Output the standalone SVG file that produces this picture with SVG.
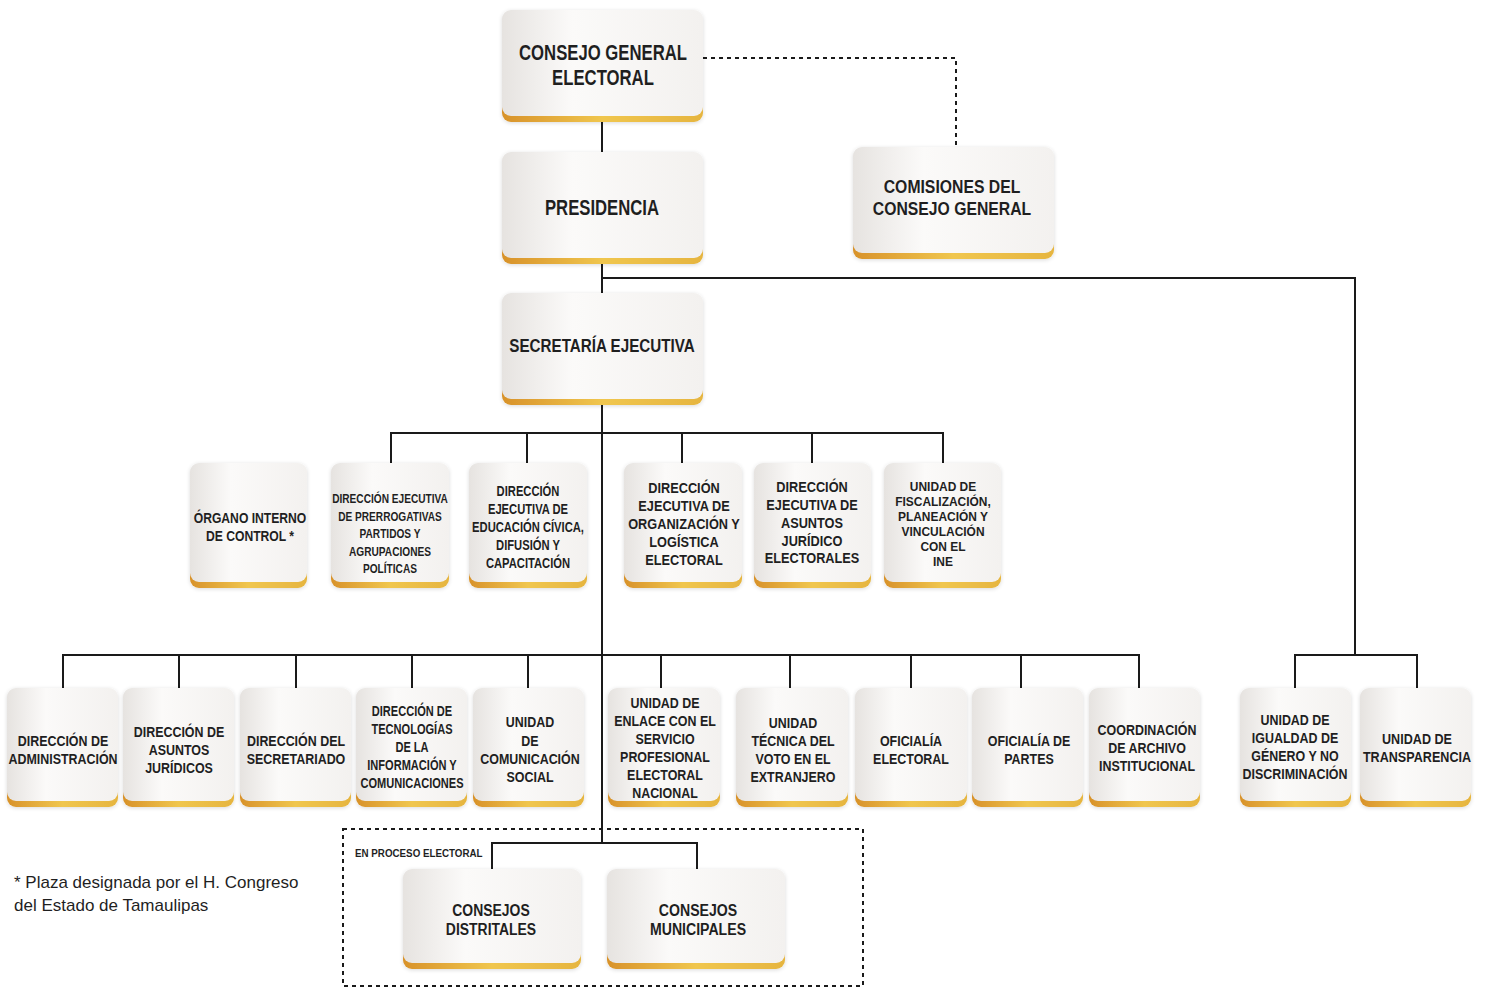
<svg xmlns="http://www.w3.org/2000/svg" width="1487" height="988" viewBox="0 0 1487 988">
<defs>
<linearGradient id="gold" x1="0" y1="0" x2="1" y2="0">
<stop offset="0" stop-color="#d8922a"/>
<stop offset="0.5" stop-color="#f0c64e"/>
<stop offset="1" stop-color="#e6b540"/>
</linearGradient>
<linearGradient id="card" x1="0" y1="0" x2="1" y2="0">
<stop offset="0" stop-color="#e6e3e0"/>
<stop offset="0.35" stop-color="#fbfaf9"/>
<stop offset="1" stop-color="#f3f1ef"/>
</linearGradient>
<filter id="sh" x="-10%" y="-10%" width="120%" height="130%">
<feGaussianBlur in="SourceAlpha" stdDeviation="2"/>
<feOffset dx="0" dy="1"/>
<feComponentTransfer><feFuncA type="linear" slope="0.15"/></feComponentTransfer>
<feMerge><feMergeNode/><feMergeNode in="SourceGraphic"/></feMerge>
</filter>
</defs>
<style>
.gold{fill:url(#gold)}
.card{fill:url(#card)}
.t{font-family:"Liberation Sans",Arial,sans-serif;font-weight:bold;fill:#1f1f1f;text-anchor:middle}
.f22{font-size:22px}
.f19{font-size:19px}
.f17{font-size:17px}
.f15{font-size:15px}
.f14{font-size:14px}
.f13{font-size:13px}
.ln{fill:none;stroke:#1a1a1a;stroke-width:2}
.dash{fill:none;stroke:#1a1a1a;stroke-width:2;stroke-dasharray:4 4}
.note{font-family:"Liberation Sans",Arial,sans-serif;font-size:17px;fill:#1f1f1f}
.small{font-family:"Liberation Sans",Arial,sans-serif;font-weight:bold;font-size:11px;fill:#1f1f1f}
</style>
<rect width="1487" height="988" fill="#ffffff"/>

<g id="connectors">
<polyline class="ln" points="602,122 602,152"/>
<polyline class="ln" points="602,264 602,293"/>
<polyline class="ln" points="602,405 602,843"/>
<polyline class="dash" points="703,58 956,58 956,147"/>
<polyline class="ln" points="602,278 1355,278 1355,655"/>
<polyline class="ln" points="1295,688 1295,655 1417,655 1417,688"/>
<polyline class="ln" points="391,463 391,433 943,433 943,463"/>
<polyline class="ln" points="527,433 527,463"/>
<polyline class="ln" points="682,433 682,463"/>
<polyline class="ln" points="812,433 812,463"/>
<polyline class="ln" points="63,688 63,655 1139,655 1139,688"/>
<polyline class="ln" points="179,655 179,688"/>
<polyline class="ln" points="296,655 296,688"/>
<polyline class="ln" points="412,655 412,688"/>
<polyline class="ln" points="528,655 528,688"/>
<polyline class="ln" points="661,655 661,688"/>
<polyline class="ln" points="790,655 790,688"/>
<polyline class="ln" points="911,655 911,688"/>
<polyline class="ln" points="1021,655 1021,688"/>
<polyline class="ln" points="492,869 492,843 697,843 697,869"/>
<rect class="dash" x="343" y="829" width="520" height="157"/>
</g>

<g id="consejo-general">
<g filter="url(#sh)"><rect class="gold" x="502" y="14" width="201" height="108" rx="9"/><rect class="card" x="502" y="10" width="201" height="106" rx="9"/></g>
<g class="t f22" transform="translate(603 0) scale(0.76 1)"><text x="0" y="60">CONSEJO GENERAL</text><text x="0" y="85">ELECTORAL</text></g>
</g>
<g id="presidencia">
<g filter="url(#sh)"><rect class="gold" x="502" y="156" width="201" height="108" rx="9"/><rect class="card" x="502" y="152" width="201" height="106" rx="9"/></g>
<g class="t f22" transform="translate(602 0) scale(0.76 1)"><text x="0" y="215">PRESIDENCIA</text></g>
</g>
<g id="comisiones">
<g filter="url(#sh)"><rect class="gold" x="853" y="151" width="201" height="108" rx="9"/><rect class="card" x="853" y="147" width="201" height="106" rx="9"/></g>
<g class="t f19" transform="translate(952 0) scale(0.83 1)"><text x="0" y="193">COMISIONES DEL</text><text x="0" y="215">CONSEJO GENERAL</text></g>
</g>
<g id="secretaria">
<g filter="url(#sh)"><rect class="gold" x="502" y="297" width="201" height="108" rx="9"/><rect class="card" x="502" y="293" width="201" height="106" rx="9"/></g>
<g class="t f19" transform="translate(602 0) scale(0.8 1)"><text x="0" y="352">SECRETARÍA EJECUTIVA</text></g>
</g>

<g id="organo-interno">
<g filter="url(#sh)"><rect class="gold" x="190" y="467" width="117" height="121" rx="9"/><rect class="card" x="190" y="463" width="117" height="119" rx="9"/></g>
<g class="t f15" transform="translate(250 0) scale(0.81 1)"><text x="0" y="523">ÓRGANO INTERNO</text><text x="0" y="541">DE CONTROL *</text></g>
</g>
<g id="prerrogativas">
<g filter="url(#sh)"><rect class="gold" x="331" y="467" width="118" height="121" rx="9"/><rect class="card" x="331" y="463" width="118" height="119" rx="9"/></g>
<g class="t f13" transform="translate(390 0) scale(0.78 1)"><text x="0" y="503">DIRECCIÓN EJECUTIVA</text><text x="0" y="521">DE PRERROGATIVAS</text><text x="0" y="538">PARTIDOS Y</text><text x="0" y="556">AGRUPACIONES</text><text x="0" y="573">POLÍTICAS</text></g>
</g>
<g id="educacion">
<g filter="url(#sh)"><rect class="gold" x="469" y="467" width="118" height="121" rx="9"/><rect class="card" x="469" y="463" width="118" height="119" rx="9"/></g>
<g class="t f14" transform="translate(528 0) scale(0.8 1)"><text x="0" y="496">DIRECCIÓN</text><text x="0" y="514">EJECUTIVA DE</text><text x="0" y="532">EDUCACIÓN CÍVICA,</text><text x="0" y="550">DIFUSIÓN Y</text><text x="0" y="568">CAPACITACIÓN</text></g>
</g>
<g id="organizacion">
<g filter="url(#sh)"><rect class="gold" x="624" y="467" width="118" height="121" rx="9"/><rect class="card" x="624" y="463" width="118" height="119" rx="9"/></g>
<g class="t f15" transform="translate(684 0) scale(0.85 1)"><text x="0" y="493">DIRECCIÓN</text><text x="0" y="511">EJECUTIVA DE</text><text x="0" y="529">ORGANIZACIÓN Y</text><text x="0" y="547">LOGÍSTICA</text><text x="0" y="565">ELECTORAL</text></g>
</g>
<g id="asuntos-juridicos-electorales">
<g filter="url(#sh)"><rect class="gold" x="754" y="467" width="117" height="121" rx="9"/><rect class="card" x="754" y="463" width="117" height="119" rx="9"/></g>
<g class="t f15" transform="translate(812 0) scale(0.85 1)"><text x="0" y="492">DIRECCIÓN</text><text x="0" y="510">EJECUTIVA DE</text><text x="0" y="528">ASUNTOS</text><text x="0" y="546">JURÍDICO</text><text x="0" y="563">ELECTORALES</text></g>
</g>
<g id="fiscalizacion">
<g filter="url(#sh)"><rect class="gold" x="884" y="467" width="117" height="121" rx="9"/><rect class="card" x="884" y="463" width="117" height="119" rx="9"/></g>
<g class="t f13" transform="translate(943 0) scale(0.92 1)"><text x="0" y="491">UNIDAD DE</text><text x="0" y="506">FISCALIZACIÓN,</text><text x="0" y="521">PLANEACIÓN Y</text><text x="0" y="536">VINCULACIÓN</text><text x="0" y="551">CON EL</text><text x="0" y="566">INE</text></g>
</g>

<g id="administracion">
<g filter="url(#sh)"><rect class="gold" x="7" y="692" width="111" height="115" rx="9"/><rect class="card" x="7" y="688" width="111" height="113" rx="9"/></g>
<g class="t f15" transform="translate(63 0) scale(0.83 1)"><text x="0" y="746">DIRECCIÓN DE</text><text x="0" y="764">ADMINISTRACIÓN</text></g>
</g>
<g id="asuntos-juridicos">
<g filter="url(#sh)"><rect class="gold" x="123" y="692" width="111" height="115" rx="9"/><rect class="card" x="123" y="688" width="111" height="113" rx="9"/></g>
<g class="t f15" transform="translate(179 0) scale(0.83 1)"><text x="0" y="737">DIRECCIÓN DE</text><text x="0" y="755">ASUNTOS</text><text x="0" y="773">JURÍDICOS</text></g>
</g>
<g id="secretariado">
<g filter="url(#sh)"><rect class="gold" x="240" y="692" width="111" height="115" rx="9"/><rect class="card" x="240" y="688" width="111" height="113" rx="9"/></g>
<g class="t f15" transform="translate(296 0) scale(0.83 1)"><text x="0" y="746">DIRECCIÓN DEL</text><text x="0" y="764">SECRETARIADO</text></g>
</g>
<g id="tecnologias">
<g filter="url(#sh)"><rect class="gold" x="356" y="692" width="111" height="115" rx="9"/><rect class="card" x="356" y="688" width="111" height="113" rx="9"/></g>
<g class="t f14" transform="translate(412 0) scale(0.79 1)"><text x="0" y="716">DIRECCIÓN DE</text><text x="0" y="734">TECNOLOGÍAS</text><text x="0" y="752">DE LA</text><text x="0" y="770">INFORMACIÓN Y</text><text x="0" y="788">COMUNICACIONES</text></g>
</g>
<g id="comunicacion-social">
<g filter="url(#sh)"><rect class="gold" x="473" y="692" width="111" height="115" rx="9"/><rect class="card" x="473" y="688" width="111" height="113" rx="9"/></g>
<g class="t f15" transform="translate(530 0) scale(0.83 1)"><text x="0" y="727">UNIDAD</text><text x="0" y="746">DE</text><text x="0" y="764">COMUNICACIÓN</text><text x="0" y="782">SOCIAL</text></g>
</g>
<g id="enlace-spen">
<g filter="url(#sh)"><rect class="gold" x="608" y="692" width="112" height="115" rx="9"/><rect class="card" x="608" y="688" width="112" height="113" rx="9"/></g>
<g class="t f15" transform="translate(665 0) scale(0.83 1)"><text x="0" y="708">UNIDAD DE</text><text x="0" y="726">ENLACE CON EL</text><text x="0" y="744">SERVICIO</text><text x="0" y="762">PROFESIONAL</text><text x="0" y="780">ELECTORAL</text><text x="0" y="798">NACIONAL</text></g>
</g>
<g id="voto-extranjero">
<g filter="url(#sh)"><rect class="gold" x="736" y="692" width="112" height="115" rx="9"/><rect class="card" x="736" y="688" width="112" height="113" rx="9"/></g>
<g class="t f15" transform="translate(793 0) scale(0.83 1)"><text x="0" y="728">UNIDAD</text><text x="0" y="746">TÉCNICA DEL</text><text x="0" y="764">VOTO EN EL</text><text x="0" y="782">EXTRANJERO</text></g>
</g>
<g id="oficialia-electoral">
<g filter="url(#sh)"><rect class="gold" x="855" y="692" width="112" height="115" rx="9"/><rect class="card" x="855" y="688" width="112" height="113" rx="9"/></g>
<g class="t f15" transform="translate(911 0) scale(0.83 1)"><text x="0" y="746">OFICIALÍA</text><text x="0" y="764">ELECTORAL</text></g>
</g>
<g id="oficialia-partes">
<g filter="url(#sh)"><rect class="gold" x="972" y="692" width="111" height="115" rx="9"/><rect class="card" x="972" y="688" width="111" height="113" rx="9"/></g>
<g class="t f15" transform="translate(1029 0) scale(0.83 1)"><text x="0" y="746">OFICIALÍA DE</text><text x="0" y="764">PARTES</text></g>
</g>
<g id="archivo">
<g filter="url(#sh)"><rect class="gold" x="1089" y="692" width="111" height="115" rx="9"/><rect class="card" x="1089" y="688" width="111" height="113" rx="9"/></g>
<g class="t f15" transform="translate(1147 0) scale(0.83 1)"><text x="0" y="735">COORDINACIÓN</text><text x="0" y="753">DE ARCHIVO</text><text x="0" y="771">INSTITUCIONAL</text></g>
</g>
<g id="igualdad">
<g filter="url(#sh)"><rect class="gold" x="1240" y="692" width="111" height="115" rx="9"/><rect class="card" x="1240" y="688" width="111" height="113" rx="9"/></g>
<g class="t f15" transform="translate(1295 0) scale(0.83 1)"><text x="0" y="725">UNIDAD DE</text><text x="0" y="743">IGUALDAD DE</text><text x="0" y="761">GÉNERO Y NO</text><text x="0" y="779">DISCRIMINACIÓN</text></g>
</g>
<g id="transparencia">
<g filter="url(#sh)"><rect class="gold" x="1360" y="692" width="111" height="115" rx="9"/><rect class="card" x="1360" y="688" width="111" height="113" rx="9"/></g>
<g class="t f15" transform="translate(1417 0) scale(0.84 1)"><text x="0" y="744">UNIDAD DE</text><text x="0" y="762">TRANSPARENCIA</text></g>
</g>

<g id="consejos-distritales">
<g filter="url(#sh)"><rect class="gold" x="403" y="873" width="178" height="96" rx="9"/><rect class="card" x="403" y="869" width="178" height="94" rx="9"/></g>
<g class="t f17" transform="translate(491 0) scale(0.82 1)"><text x="0" y="916">CONSEJOS</text><text x="0" y="935">DISTRITALES</text></g>
</g>
<g id="consejos-municipales">
<g filter="url(#sh)"><rect class="gold" x="607" y="873" width="178" height="96" rx="9"/><rect class="card" x="607" y="869" width="178" height="94" rx="9"/></g>
<g class="t f17" transform="translate(698 0) scale(0.83 1)"><text x="0" y="916">CONSEJOS</text><text x="0" y="935">MUNICIPALES</text></g>
</g>

<g class="small" transform="translate(355 0) scale(0.89 1)"><text x="0" y="857">EN PROCESO ELECTORAL</text></g>
<text class="note" x="14" y="888">* Plaza designada por el H. Congreso</text>
<text class="note" x="14" y="911">del Estado de Tamaulipas</text>
</svg>
